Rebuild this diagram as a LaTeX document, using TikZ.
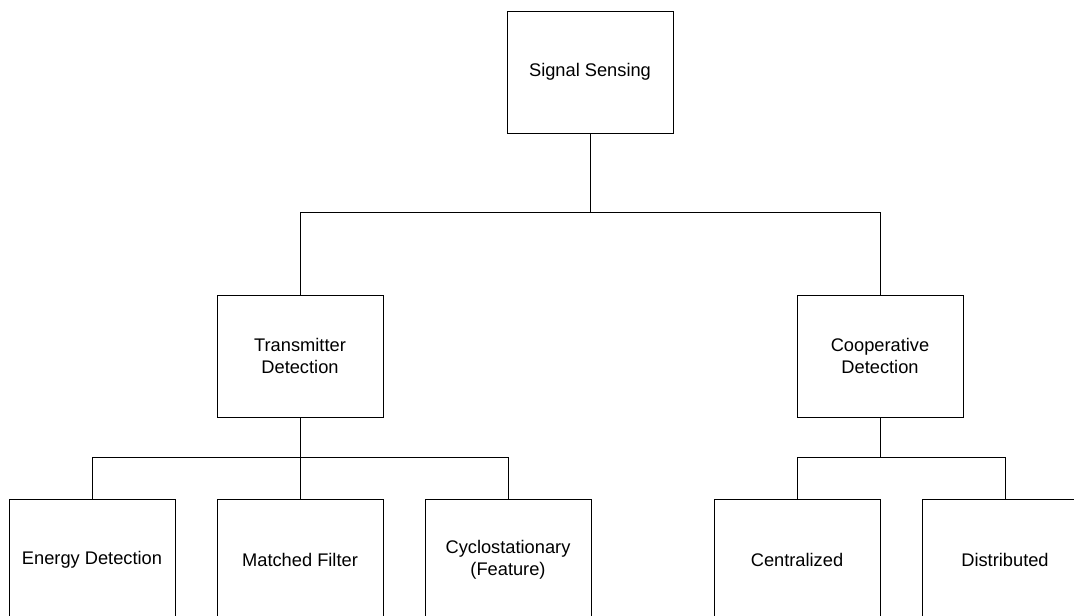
\documentclass[tikz,border=0pt]{standalone}
\usepackage{fontspec}
\setmainfont{Liberation Sans}
\usetikzlibrary{positioning}

\tikzset{
  box/.style={rectangle, draw, line width=0.75pt, minimum width=124.5pt, minimum height=91.5pt,
    inner sep=0pt, align=center, font=\fontsize{13.7}{16.5}\selectfont},
  link/.style={line width=0.75pt}
}

\begin{document}
\begin{tikzpicture}[x=0.75pt, y=-0.75pt, node distance=60.75pt and 30.75pt]
      \clip (0,0) rectangle (1074,615);
      \node[box] (sense) at (590,72) {Signal Sensing};
      \node[box] (tx) at (300,356) {Transmitter\\Detection};
      \node[box] (coop) at (880,356) {Cooperative\\Detection};
      
      % transmitter side
      \node[box, below=of tx] (matched) {Matched Filter};
      \node[box, left=of matched] (energy) {Energy Detection};
      \node[box, right=of matched] (cyclo) {Cyclostationary\\(Feature)};
      
      % cooperative side
      \node[box, below=of coop, xshift=-62.25pt] (central) {Centralized};
      \node[box, right=of central] (distrib) {Distributed};
      
      \draw[link] (sense.south) -- ++(0,79) coordinate (split1);
      \draw[link] (tx.north) |- (split1) -| (coop.north);
      
      \draw[link] (tx.south) -- ++(0,40) coordinate (split2);
      \draw[link] (energy.north) |- (split2) -| (cyclo.north);
      \draw[link] (split2) -- (matched.north);
      
      \draw[link] (coop.south) -- ++(0,40) coordinate (split3);
      \draw[link] (central.north) |- (split3) -| (distrib.north);
    \end{tikzpicture}
\end{document}
